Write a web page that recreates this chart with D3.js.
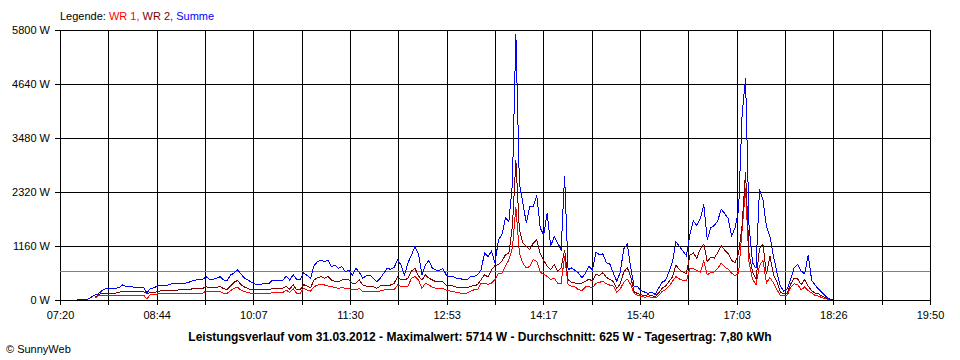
<!DOCTYPE html>
<html><head><meta charset="utf-8">
<script src="https://cdn.jsdelivr.net/npm/d3@7"></script>
<style>
body{margin:0;background:#fff;}
svg text{font-family:"Liberation Sans",Arial,sans-serif;font-size:11px;fill:#000;}
</style></head><body>
<svg id="c" width="960" height="360"></svg>
<script>
// minutes after 07:20, one reading every 3 minutes
const startMinute = 15;
const stepMinutes = 3;
const summe = [15,15,15,15,60,
107,130,200,240,250,250,250,272,322,290,290,280,272,272,272,
150,250,260,300,322,322,322,344,358,358,358,358,380,408,430,
444,444,500,444,444,465,501,430,410,540,573,650,560,470,430,
380,344,340,344,344,350,430,420,430,420,510,430,540,444,444,
580,530,465,740,823,859,823,859,716,752,680,716,609,644,537,
680,600,465,520,537,465,394,465,573,680,659,700,860,750,537,
800,967,1146,1000,537,750,850,680,644,630,680,537,501,501,465,
465,430,430,508,508,544,650,1010,938,1045,795,1296,1403,1761,1690,
2500,5714,2513,2084,1654,2012,2012,2250,1550,1400,1869,1153,1368,1224,1081,
2670,650,687,637,580,473,580,720,640,1030,970,990,800,770,580,
400,600,1100,1200,700,280,280,200,170,140,170,120,250,380,420,
600,820,1250,1150,1050,950,1400,1700,1600,1750,2050,1300,1550,1600,1700,
1950,1860,1750,1380,1550,1940,3980,4770,1600,800,680,2380,2150,1580,1370,
950,600,300,190,240,450,700,760,620,560,970,420,320,230,160,
80,30,0];
const wr2 = [null,null,null,null,null,
57,107,143,143,150,150,150,170,179,179,179,179,179,179,179,
143,158,158,180,200,200,200,200,210,215,215,215,220,240,250,
250,250,286,265,265,265,300,240,229,300,380,420,330,280,250,
215,215,215,215,215,215,251,251,240,251,300,229,330,215,215,
330,300,265,430,480,501,465,501,430,400,394,430,430,430,358,
358,430,322,300,300,286,251,300,322,322,322,358,501,430,430,
465,620,680,520,430,537,470,430,394,400,394,322,322,300,272,
265,265,265,294,308,329,437,544,494,650,737,760,830,974,1010,
1582,3000,1510,1224,1153,1081,1224,1296,1000,850,723,652,760,616,687,
1081,437,380,365,351,365,401,450,400,560,520,590,490,440,400,
250,350,600,700,500,170,140,110,100,110,100,70,150,250,300,
400,500,750,650,600,570,960,1010,900,1100,1200,820,920,900,1020,
1170,1070,1000,850,800,1000,1600,2750,1000,600,450,1100,1200,550,950,
550,400,170,130,150,350,470,450,330,440,300,200,150,130,80,
50,20,0];
const wr1 = [null,null,null,null,null,
36,86,86,86,86,86,86,100,107,107,107,107,107,107,107,
21,122,122,129,129,135,135,135,135,140,140,143,143,143,150,
150,150,193,179,179,179,179,143,143,200,251,272,215,179,160,
143,129,129,129,129,135,158,158,158,158,215,158,240,143,143,
251,215,193,286,320,337,322,300,286,270,251,265,251,251,215,
215,250,179,179,179,179,179,193,215,215,215,215,322,286,286,
300,465,501,430,251,358,322,272,251,251,251,215,193,179,165,
150,143,150,186,222,222,365,365,330,365,437,580,580,723,866,
1117,2000,1010,795,687,723,866,830,600,550,508,437,473,365,365,
938,330,294,279,222,208,279,290,260,360,380,400,350,320,300,
170,240,380,450,330,140,100,80,60,70,60,40,90,180,220,
300,400,500,450,420,410,670,680,630,600,840,540,590,600,680,
790,710,660,580,520,580,1500,2400,800,450,330,740,850,370,480,
370,220,100,90,110,270,350,330,220,280,200,150,100,80,50,
30,10,0];
const yTicks = [0,1160,2320,3480,4640,5800];
const xTickLabels = ["07:20","08:44","10:07","11:30","12:53","14:17","15:40","17:03","18:26","19:50"];
const totalMinutes = 750;
const average = 625;
const legendItems = [{t:"WR 1, ",c:"#ff0000"},{t:"WR 2, ",c:"#800000"},{t:"Summe",c:"#0000ff"}];
const titleText = "Leistungsverlauf vom 31.03.2012 - Maximalwert: 5714 W - Durchschnitt: 625 W - Tagesertrag: 7,80 kWh";

const times = summe.map((d,i)=>startMinute + i*stepMinutes);
const svg = d3.select("#c");
const x = d3.scaleLinear().domain([0,totalMinutes]).range([60,930]);
const y = d3.scaleLinear().domain([0,5800]).range([300,30]);
const gridMinutes = d3.range(19).map(i=>i*totalMinutes/18);

// y axis with full-width grid
const yAx = svg.append("g").attr("transform","translate(930,0)")
  .call(d3.axisLeft(y).tickValues(yTicks).tickSizeInner(875).tickSizeOuter(0).tickPadding(5).tickFormat(d=>d+" W"));
yAx.select(".domain").remove();
yAx.selectAll("line").attr("stroke","#000").attr("shape-rendering","crispEdges");
yAx.selectAll("text").style("font-family","'Liberation Sans',Arial,sans-serif").style("font-size","11px");

// x axis with full-height grid
const xAx = svg.append("g").attr("transform","translate(0,30)")
  .call(d3.axisBottom(x).tickValues(gridMinutes).tickSizeInner(275).tickSizeOuter(0).tickPadding(6)
    .tickFormat((d,i)=> i%2===0 ? xTickLabels[i/2] : ""));
xAx.select(".domain").remove();
xAx.selectAll("line").attr("stroke","#000").attr("shape-rendering","crispEdges");
xAx.selectAll("text").style("font-family","'Liberation Sans',Arial,sans-serif").style("font-size","11px");

// average line
svg.append("line").attr("x1",x(0)).attr("x2",x(totalMinutes))
  .attr("y1",Math.round(y(average))+0.5).attr("y2",Math.round(y(average))+0.5)
  .attr("stroke","#808080").attr("shape-rendering","crispEdges");

const line = d3.line().defined(d=>d!=null).x((d,i)=>x(times[i])).y(d=>y(d));
[[wr1,"#ff0000"],[wr2,"#800000"],[summe,"#0000ff"]].forEach(([s,c])=>{
  svg.append("path").datum(s).attr("d",line).attr("fill","none").attr("stroke",c)
    .attr("stroke-width",1).attr("shape-rendering","crispEdges");
});

// legend
const lg = svg.append("text").attr("x",60).attr("y",20);
lg.append("tspan").text("Legende: ");
legendItems.forEach(it=>lg.append("tspan").attr("fill",it.c).style("fill",it.c).text(it.t));

svg.append("text").attr("x",480).attr("y",341).attr("text-anchor","middle")
  .style("font-weight","bold").style("font-size","12px").text(titleText);
svg.append("text").attr("x",6).attr("y",353).text("© SunnyWeb");
</script></body></html>
